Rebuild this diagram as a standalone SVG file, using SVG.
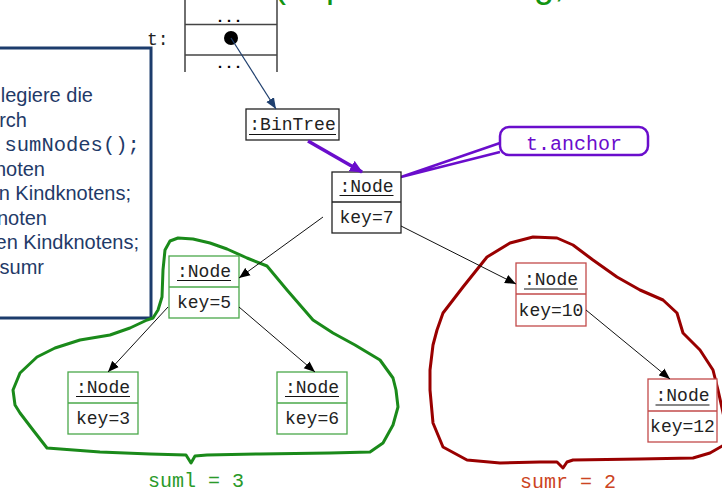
<svg xmlns="http://www.w3.org/2000/svg" width="722" height="495" viewBox="0 0 722 495">
<defs>
<style>
.mono{font-family:"Liberation Mono","Courier New",monospace;}
.sans{font-family:"Liberation Sans",Arial,sans-serif;}
.ntxt{font-size:18px;fill:#222;text-anchor:middle;}
.box{fill:#fff;stroke-width:1.3;}
.blk{stroke:#222;}
.grn{stroke:#4aa84a;}
.red{stroke:#c24a4a;}
.ul{stroke:#111;stroke-width:1.2;}
.panel{font-size:20px;fill:#1f3a68;text-anchor:end;}
.conn{stroke:#111;stroke-width:1;fill:none;marker-end:url(#ah);}
</style>
<marker id="ah" markerWidth="12" markerHeight="10" refX="11" refY="5" orient="auto" markerUnits="userSpaceOnUse"><path d="M0,0.5 L11,5 L0,9.5 z" fill="#000"/></marker>
<marker id="ahb" markerWidth="12" markerHeight="10" refX="11" refY="5" orient="auto" markerUnits="userSpaceOnUse"><path d="M0,0.5 L11,5 L0,9.5 z" fill="#1f3f6e"/></marker>
<marker id="ahp" markerWidth="14" markerHeight="12" refX="12" refY="6" orient="auto" markerUnits="userSpaceOnUse"><path d="M0,0 L13,6 L0,12 z" fill="#6a0dcc"/></marker>
</defs>
<rect width="722" height="495" fill="#fff"/>

<!-- cut-off title -->
<text class="sans" x="274" y="-3" font-size="36" fill="#129412">(Implementierung,</text>

<!-- explanation panel -->
<g id="panel">
<rect x="-10" y="48" width="161" height="270" fill="#fff" stroke="#1c3c6c" stroke-width="3"/>
<text class="sans panel" x="93" y="102">legiere die</text>
<text class="sans panel" x="27" y="126.5">rch</text>
<text class="mono" x="4.5" y="151" font-size="20.5" fill="#1f3a68">sumNodes();</text>
<text class="sans panel" x="45" y="175.5">noten</text>
<text class="sans panel" x="131" y="200">n Kindknotens;</text>
<text class="sans panel" x="47" y="224.5">noten</text>
<text class="sans panel" x="139" y="249">en Kindknotens;</text>
<text class="sans panel" x="44" y="273.5">sumr</text>
</g>

<!-- variable t -->
<g id="var_t">
<line x1="185" y1="0" x2="185" y2="72" stroke="#222" stroke-width="1.3"/>
<line x1="277" y1="0" x2="277" y2="72" stroke="#222" stroke-width="1.3"/>
<line x1="185" y1="24.5" x2="277" y2="24.5" stroke="#444" stroke-width="1.3"/>
<line x1="185" y1="55" x2="277" y2="55" stroke="#444" stroke-width="1.3"/>
<text class="mono" x="229" y="22" font-size="15" font-weight="bold" text-anchor="middle" fill="#000">...</text>
<text class="mono" x="229" y="68" font-size="15" font-weight="bold" text-anchor="middle" fill="#000">...</text>
<circle cx="231" cy="38" r="7" fill="#000"/>
<text class="mono" x="147" y="45" font-size="18" fill="#222">t:</text>
</g>

<!-- BinTree -->
<g id="bintree">
<rect class="box blk" x="246" y="109" width="93" height="31"/>
<text class="mono ntxt" x="292.5" y="130">:BinTree</text>
<line class="ul" x1="249" y1="134.5" x2="336" y2="134.5"/>
</g>

<!-- blobs -->
<g id="blob_left">
<path d="M191,463 L195,456 L207,455 L260,454 L330,453 L370,452 L383,443 L393,425 L398,407 L396,390 L393,378 L380,360 L355,345 L333,333 L313,320 L300,305 L287,290 L267,266 L247,258 L227,249 L210,243 L193,239 L178,238 L170,241 L165,250 L163,270 L162,297 L158,310 L153,318 L147,320 L130,328 L110,335 L80,340 L55,348 L37,357 L20,373 L13,390 L15,405 L20,413 L33,430 L47,448 L100,452 L150,454 L186,455 Z" fill="none" stroke="#1a8a1a" stroke-width="3" stroke-linejoin="round"/>
<text class="mono" x="196" y="487" font-size="20" fill="#2a9a2a" text-anchor="middle">suml = 3</text>
</g>
<g id="blob_right">
<path d="M563,468 L557,462 L540,462 L500,463 L467,460 L443,447 L433,423 L430,390 L430,370 L433,345 L437,330 L443,313 L463,287 L487,257 L510,243 L533,237 L557,238 L573,245 L593,260 L617,277 L640,290 L663,300 L677,313 L683,333 L700,350 L713,370 L718,390 L724,417 L724,445 L710,453 L693,458 L640,459 L573,460 L567,462 Z" fill="none" stroke="#990000" stroke-width="3" stroke-linejoin="round"/>
<text class="mono" x="568" y="488" font-size="20" fill="#cc4422" text-anchor="middle">sumr = 2</text>
</g>

<!-- callout -->
<g id="callout">
<path d="M500,143 L401,177 L500,152" fill="#fff" stroke="#6a0dcc" stroke-width="2.5" stroke-linejoin="round"/>
<rect x="500" y="127" width="148" height="28" rx="9" fill="#fff" stroke="#6a0dcc" stroke-width="2.5"/>
<text class="mono" x="574" y="150" font-size="20" fill="#6a0dcc" text-anchor="middle">t.anchor</text>
</g>

<!-- nodes -->
<g id="node7">
<rect class="box blk" x="332" y="172" width="69" height="61"/>
<line class="blk" x1="332" y1="202" x2="401" y2="202" stroke-width="1.3"/>
<text class="mono ntxt" x="366.5" y="192">:Node</text>
<line class="ul" x1="339.5" y1="195.5" x2="393.5" y2="195.5"/>
<text class="mono ntxt" x="366.5" y="223">key=7</text>
</g>
<g id="node5">
<rect class="box grn" x="169" y="256" width="70" height="62"/>
<line class="grn" x1="169" y1="287" x2="239" y2="287" stroke-width="1.3"/>
<text class="mono ntxt" x="204" y="277">:Node</text>
<line class="ul" x1="177" y1="280.5" x2="231" y2="280.5"/>
<text class="mono ntxt" x="204" y="308">key=5</text>
</g>
<g id="node3">
<rect class="box grn" x="68" y="372" width="70" height="62"/>
<line class="grn" x1="68" y1="403" x2="138" y2="403" stroke-width="1.3"/>
<text class="mono ntxt" x="103" y="393">:Node</text>
<line class="ul" x1="76" y1="396.5" x2="130" y2="396.5"/>
<text class="mono ntxt" x="103" y="424">key=3</text>
</g>
<g id="node6">
<rect class="box grn" x="277" y="372" width="70" height="62"/>
<line class="grn" x1="277" y1="403" x2="347" y2="403" stroke-width="1.3"/>
<text class="mono ntxt" x="312" y="393">:Node</text>
<line class="ul" x1="285" y1="396.5" x2="339" y2="396.5"/>
<text class="mono ntxt" x="312" y="424">key=6</text>
</g>
<g id="node10">
<rect class="box red" x="516" y="263" width="70" height="63"/>
<line class="red" x1="516" y1="294" x2="586" y2="294" stroke-width="1.3"/>
<text class="mono ntxt" x="551" y="285">:Node</text>
<line class="ul" x1="524" y1="289" x2="578" y2="289"/>
<text class="mono ntxt" x="551" y="316">key=10</text>
</g>
<g id="node12">
<rect class="box red" x="648" y="379" width="69" height="63"/>
<line class="red" x1="648" y1="411" x2="717" y2="411" stroke-width="1.3"/>
<text class="mono ntxt" x="682.5" y="401">:Node</text>
<line class="ul" x1="655.5" y1="405" x2="709.5" y2="405"/>
<text class="mono ntxt" x="682.5" y="432">key=12</text>
</g>

<!-- connectors -->
<g id="connectors">
<line x1="231" y1="38" x2="276" y2="109" stroke="#1f3f6e" stroke-width="1.2" marker-end="url(#ahb)"/>
<line x1="308" y1="141" x2="362" y2="172" stroke="#6a0dcc" stroke-width="3.5" marker-end="url(#ahp)"/>
<line class="conn" x1="323" y1="217" x2="239" y2="278"/>
<line class="conn" x1="401" y1="226" x2="516" y2="284"/>
<line class="conn" x1="168" y1="307" x2="108" y2="372"/>
<line class="conn" x1="239" y1="307" x2="315" y2="372"/>
<line class="conn" x1="586" y1="310" x2="670" y2="379"/>
</g>
</svg>
